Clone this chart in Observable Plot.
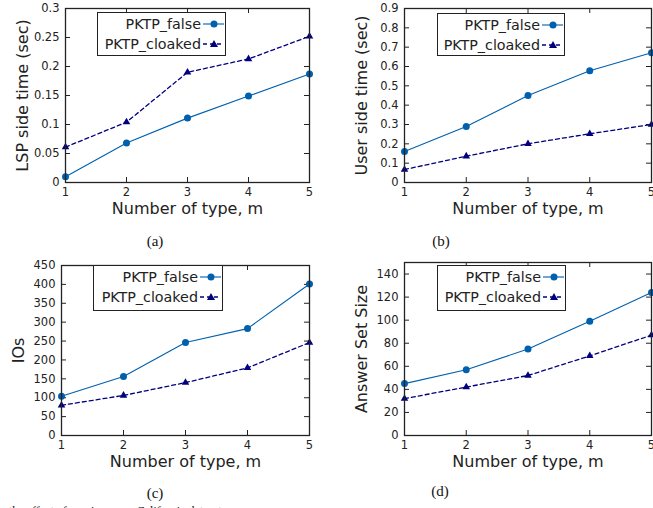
<!DOCTYPE html>
<html>
<head>
<meta charset="utf-8">
<script src="https://cdn.jsdelivr.net/npm/d3@7"></script>
<script src="https://cdn.jsdelivr.net/npm/@observablehq/plot@0.6"></script>
<style>
  html, body { margin: 0; padding: 0; background: #fff; }
  body { width: 653px; height: 508px; overflow: hidden; position: relative; font-family: "DejaVu Sans", sans-serif; }
  .panel { position: absolute; }
  .legend { position: absolute; box-sizing: border-box; border: 1px solid #222; background: #fff; }
  .legend svg { display: block; overflow: visible; }
  .cap { position: absolute; font-family: "Liberation Serif", serif; font-size: 15px; color: #111; transform: translate(-50%, -50%); white-space: nowrap; }
  .foot { position: absolute; left: 9px; top: 505px; font-family: "Liberation Serif", serif; font-size: 12px; line-height: 12px; color: #111; white-space: nowrap; }
</style>
</head>
<body>
<script>
// ---- data ----
const types = [1, 2, 3, 4, 5];
const seriesNames = ["PKTP_false", "PKTP_cloaked"];
const xLabel = "Number of type, m";
const yLabels = ["LSP side time (sec)", "User side time (sec)", "IOs", "Answer Set Size"];
const captions = ["(a)", "(b)", "(c)", "(d)"];

const lspFalse = [0.010, 0.068, 0.111, 0.149, 0.187];
const lspCloaked = [0.061, 0.104, 0.190, 0.213, 0.252];
const userFalse = [0.160, 0.290, 0.450, 0.578, 0.671];
const userCloaked = [0.067, 0.136, 0.200, 0.252, 0.300];
const iosFalse = [104, 156, 246, 283, 401];
const iosCloaked = [80, 106, 140, 179, 246];
const ansFalse = [45, 57, 75, 99, 124];
const ansCloaked = [32, 42, 52, 69, 87];

const yTicksA = [0, 0.05, 0.1, 0.15, 0.2, 0.25, 0.3];
const yTicksB = [0, 0.1, 0.2, 0.3, 0.4, 0.5, 0.6, 0.7, 0.8, 0.9];
const yTicksC = [0, 50, 100, 150, 200, 250, 300, 350, 400, 450];
const yTicksD = [0, 20, 40, 60, 80, 100, 120, 140];
const footText = "the effect of varying m on California dataset";

// ---- styles / layout ----
const colFalse = "#0060ad";
const colCloaked = "#00007f";
const ink = "#222";

const panels = [
  {left: 0, top: 0, width: 326, height: 222, ml: 65, mr: 17, mt: 8, mb: 40,
   ydomain: [0, 0.3], yticks: yTicksA, yLabel: yLabels[0], f: lspFalse, c: lspCloaked,
   legend: {left: 97, top: 12, w: 129, h: 44}, caption: {x: 155, y: 241, t: captions[0]}},
  {left: 326, top: 0, width: 342, height: 222, ml: 78, mr: 17, mt: 8, mb: 40,
   ydomain: [0, 0.9], yticks: yTicksB, yLabel: yLabels[1], f: userFalse, c: userCloaked,
   legend: {left: 437, top: 13, w: 128, h: 43}, caption: {x: 441, y: 241, t: captions[1]}},
  {left: 0, top: 250, width: 326, height: 225, ml: 61, mr: 17, mt: 15, mb: 40,
   ydomain: [0, 450], yticks: yTicksC, yLabel: yLabels[2], f: iosFalse, c: iosCloaked,
   legend: {left: 93, top: 265, w: 130, h: 46}, caption: {x: 155, y: 493, t: captions[2]}},
  {left: 326, top: 250, width: 342, height: 225, ml: 78, mr: 17, mt: 12, mb: 40,
   ydomain: [0, 150], yticks: yTicksD, yLabel: yLabels[3], f: ansFalse, c: ansCloaked,
   legend: {left: 437, top: 265, w: 129, h: 46}, caption: {x: 440, y: 491, t: captions[3]}}
];

function makePlot(p) {
  const fw = p.width - p.ml - p.mr;
  const fh = p.height - p.mt - p.mb;
  const rowsF = types.map((t, i) => ({x: t, y: p.f[i]}));
  const rowsC = types.map((t, i) => ({x: t, y: p.c[i]}));
  const tl = 5;
  return Plot.plot({
    width: p.width, height: p.height,
    marginLeft: p.ml, marginRight: p.mr, marginTop: p.mt, marginBottom: p.mb,
    style: {fontFamily: "DejaVu Sans", color: ink, background: "transparent", maxWidth: "none", overflow: "visible"},
    x: {domain: [1, 5]},
    y: {domain: p.ydomain},
    marks: [
      Plot.tickY(p.yticks, {y: d => d, insetRight: fw - tl, stroke: ink}),
      Plot.tickY(p.yticks, {y: d => d, insetLeft: fw - tl, stroke: ink}),
      Plot.tickX(types, {x: d => d, insetTop: fh - tl, stroke: ink}),
      Plot.tickX(types, {x: d => d, insetBottom: fh - tl, stroke: ink}),
      Plot.axisY({ticks: p.yticks, tickSize: 0, tickPadding: 6, tickFormat: d => String(d), label: null, fontSize: 11.5}),
      Plot.axisX({ticks: types, tickSize: 0, tickPadding: 5, tickFormat: d => String(d), label: null, fontSize: 11.5}),
      Plot.text([xLabel], {text: d => d, frameAnchor: "bottom", textAnchor: "middle", lineAnchor: "bottom", dy: 31, fontSize: 16, fill: ink}),
      Plot.text([p.yLabel], {text: d => d, frameAnchor: "left", textAnchor: "middle", rotate: -90, lineAnchor: "top", dx: -49, fontSize: 16, fill: ink}),
      Plot.line(rowsF, {x: "x", y: "y", stroke: colFalse, strokeWidth: 1.1}),
      Plot.line(rowsC, {x: "x", y: "y", stroke: colCloaked, strokeWidth: 1.3, strokeDasharray: "4,3"}),
      Plot.dot(rowsF, {x: "x", y: "y", r: 3.5, fill: colFalse, stroke: null, symbol: "circle"}),
      Plot.dot(rowsC, {x: "x", y: "y", r: 2.8, fill: colCloaked, stroke: null, symbol: "triangle"}),
      Plot.frame({stroke: ink, strokeWidth: 1.3})
    ]
  });
}

function legendSvg(w) {
  const rowsY = [11, 31];
  const tri = (cx, cy) => `${cx},${cy - 4} ${cx + 4},${cy + 3} ${cx - 4},${cy + 3}`;
  const parts = [];
  seriesNames.forEach((name, i) => {
    const y = rowsY[i];
    parts.push(`<text x="${w - 26}" y="${y}" dy="0.36em" text-anchor="end" font-family="DejaVu Sans" font-size="14.3" fill="${ink}">${name}</text>`);
    if (i === 0) {
      parts.push(`<line x1="${w - 24}" x2="${w - 3}" y1="${y}" y2="${y}" stroke="${colFalse}" stroke-width="1.1"/>`);
      parts.push(`<circle cx="${w - 13}" cy="${y}" r="3.5" fill="${colFalse}"/>`);
    } else {
      parts.push(`<line x1="${w - 24}" x2="${w - 3}" y1="${y}" y2="${y}" stroke="${colCloaked}" stroke-width="1.3" stroke-dasharray="4,3"/>`);
      parts.push(`<polygon points="${tri(w - 13, y)}" fill="${colCloaked}"/>`);
    }
  });
  return `<svg width="${w - 2}" height="44">${parts.join("")}</svg>`;
}

panels.forEach(p => {
  const box = document.createElement("div");
  box.className = "panel";
  box.style.left = p.left + "px";
  box.style.top = p.top + "px";
  box.appendChild(makePlot(p));
  document.body.appendChild(box);

  const lg = document.createElement("div");
  lg.className = "legend";
  lg.style.left = p.legend.left + "px";
  lg.style.top = p.legend.top + "px";
  lg.style.width = p.legend.w + "px";
  lg.style.height = p.legend.h + "px";
  lg.innerHTML = legendSvg(p.legend.w);
  document.body.appendChild(lg);

  const cap = document.createElement("div");
  cap.className = "cap";
  cap.style.left = p.caption.x + "px";
  cap.style.top = p.caption.y + "px";
  cap.textContent = p.caption.t;
  document.body.appendChild(cap);
});

const foot = document.createElement("div");
foot.className = "foot";
foot.textContent = footText;
document.body.appendChild(foot);
</script>
</body>
</html>
